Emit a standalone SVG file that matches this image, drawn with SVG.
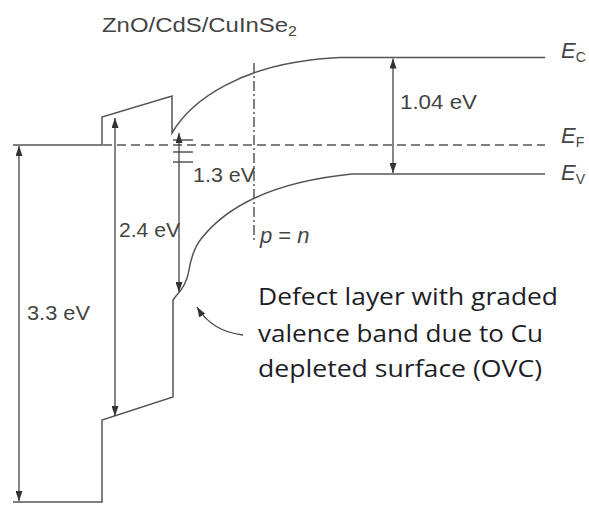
<svg xmlns="http://www.w3.org/2000/svg" width="589" height="506" viewBox="0 0 589 506">
<style>
.ln{fill:none;stroke:#555;stroke-width:1.5;stroke-linejoin:miter}
.ar{fill:none;stroke:#444;stroke-width:1.3;marker-start:url(#ah);marker-end:url(#ah)}
.ar1{fill:none;stroke:#444;stroke-width:1.3;marker-end:url(#ah)}
.lb{font-family:"Liberation Sans",Arial,sans-serif;fill:#444;font-size:21px}
.it{font-family:"Liberation Sans",Arial,sans-serif;fill:#444;font-size:22px;font-style:italic}
.sb{font-size:14px;font-style:normal}
.df{font-family:"Open Sans","Noto Sans",sans-serif;fill:#1e1e28;font-size:23px}
</style>
<defs>
<marker id="ah" viewBox="0 0 10 7" refX="10" refY="3.5" markerWidth="10" markerHeight="7" markerUnits="userSpaceOnUse" orient="auto-start-reverse">
<path d="M0,0 L10,3.5 L0,7 z" fill="#333"/>
</marker>
</defs>
<rect width="589" height="506" fill="#fff"/>
<g id="title"><text class="lb" x="102" y="32" font-size="22" textLength="195" lengthAdjust="spacingAndGlyphs">ZnO/CdS/CuInSe<tspan class="sb" dy="4">2</tspan></text></g>
<g id="bands">
<path class="ln" d="M13,145 L102,145 L102,117 L172,96 L172,133 C190,102 240,62 340,57.5 L545,57.5"/>
<path class="ln" d="M13,502 L102,502 L102,420 L173,397 L173,300 L176,296 C182,290 187,282 189,270 C191,258 194,248 201,239 C222,212 262,183 352,174 L545,174"/>
<path class="ln" d="M103,145 L545,145" stroke-dasharray="9 5"/>
<path class="ln" d="M254,63 L254,240" stroke-width="1.2" stroke-dasharray="10 3 2 3"/>
<path class="ln" d="M173,140 H193 M173,152 H193 M173,162 H193" stroke-width="1.3"/>
</g>
<g id="connectors">
<line class="ar" x1="19" y1="146" x2="19" y2="501"/>
<line class="ar" x1="115" y1="118" x2="115" y2="416"/>
<line class="ar" x1="179" y1="133" x2="179" y2="292"/>
<line class="ar" x1="393" y1="58.5" x2="393" y2="173"/>
<path class="ar1" d="M243,335 C226,333 208,325 197,307"/>
</g>
<g id="labels">
<text class="lb" x="27" y="320" textLength="63" lengthAdjust="spacingAndGlyphs">3.3 eV</text>
<text class="lb" x="119" y="237" textLength="61" lengthAdjust="spacingAndGlyphs">2.4 eV</text>
<text class="lb" x="193" y="182" textLength="62" lengthAdjust="spacingAndGlyphs">1.3 eV</text>
<text class="lb" x="400" y="109" textLength="77" lengthAdjust="spacingAndGlyphs">1.04 eV</text>
<text class="it" x="260" y="243">p<tspan font-style="normal"> = </tspan>n</text>
<text class="it" x="561" y="58">E<tspan class="sb" dy="4">C</tspan></text>
<text class="it" x="561" y="143">E<tspan class="sb" dy="4">F</tspan></text>
<text class="it" x="561" y="180">E<tspan class="sb" dy="4">V</tspan></text>
</g>
<g id="note">
<text class="df" x="258" y="305" textLength="300" lengthAdjust="spacingAndGlyphs">Defect layer with graded</text>
<text class="df" x="258" y="342" textLength="285" lengthAdjust="spacingAndGlyphs">valence band due to Cu</text>
<text class="df" x="258" y="377" textLength="284" lengthAdjust="spacingAndGlyphs">depleted surface (OVC)</text>
</g>
</svg>
